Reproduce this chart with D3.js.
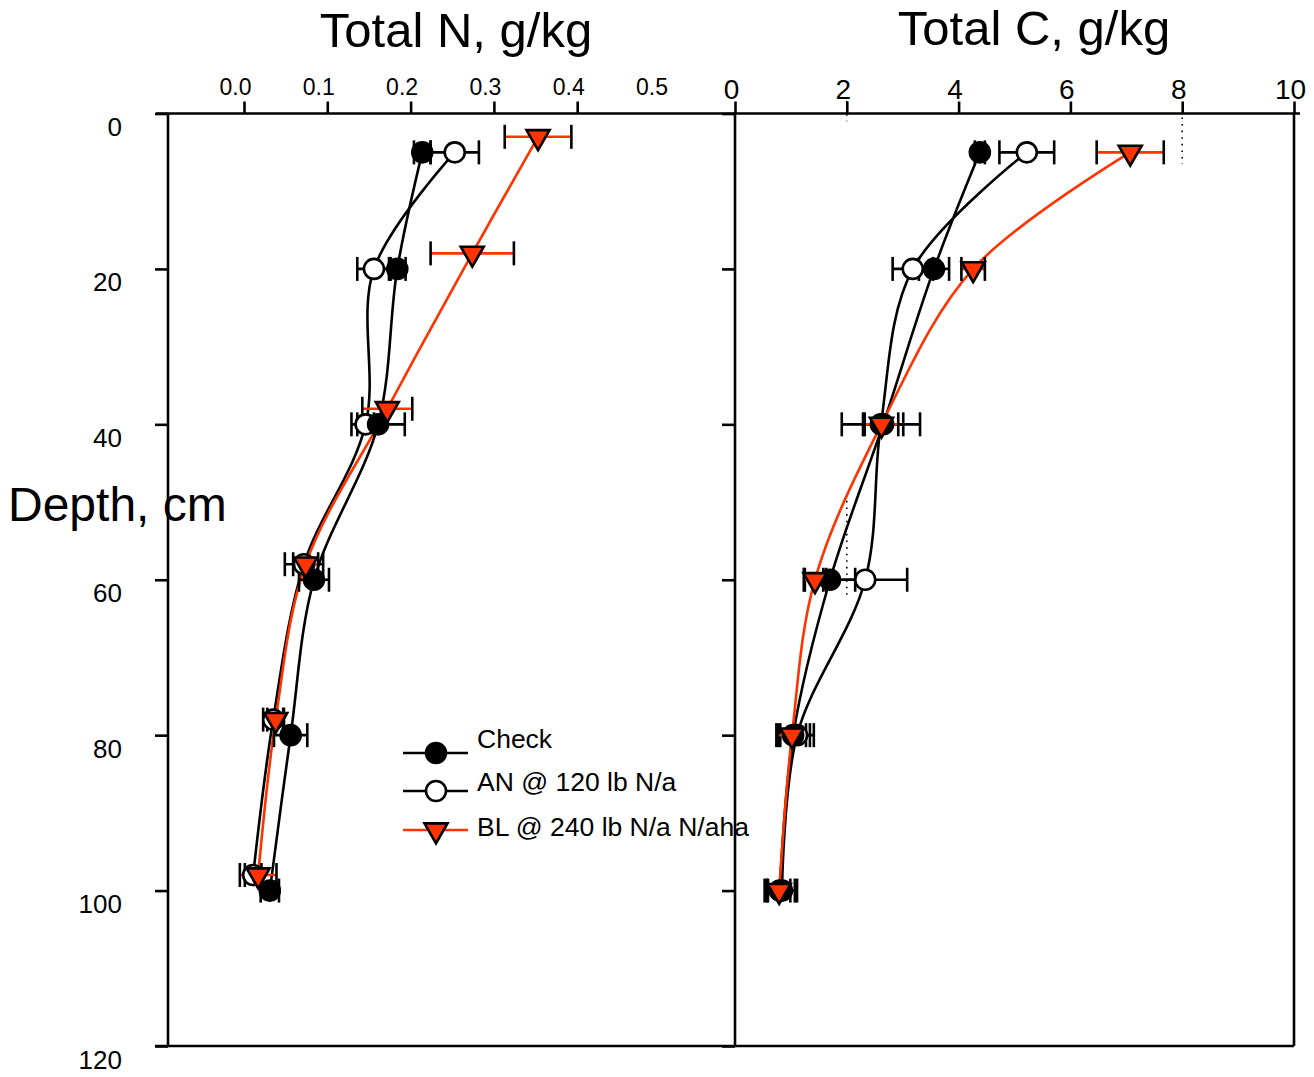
<!DOCTYPE html>
<html>
<head>
<meta charset="utf-8">
<script src="https://cdn.jsdelivr.net/npm/d3@7"></script>
<style>
  body { margin: 0; background: #fff; }
  svg { font-family: "Liberation Sans", Arial, sans-serif; }
</style>
</head>
<body>
<div id="chart"></div>
<script>
const width = 1314;
const height = 1077;
const red = '#ff3300';

// depths (cm) where samples were taken
const depths = [5, 20, 40, 60, 80, 100];
// N panel markers were nudged up a bit so they don't sit on top of each other
const nDepthAN = [5, 20, 40, 58, 78, 98];
const nDepthBL = [3, 18, 38, 58, 78, 98];

// Total N, g/kg
const nCheck = [0.214, 0.184, 0.161, 0.084, 0.056, 0.031];
const nCheckErr = [0.01, 0.01, 0.032, 0.018, 0.02, 0.011];
const nAN = [0.253, 0.156, 0.146, 0.072, 0.035, 0.011];
const nANErr = [0.029, 0.02, 0.01, 0.023, 0.012, 0.01];
const nBL = [0.353, 0.274, 0.172, 0.074, 0.038, 0.017];
const nBLErr = [0.04, 0.05, 0.03, 0.015, 0.01, 0.022];

// Total C, g/kg
const cCheck = [4.38, 3.56, 2.65, 1.70, 1.04, 0.80];
const cCheckErr = [0.09, 0.27, 0.36, 0.45, 0.3, 0.27];
const cAN = [5.22, 3.18, 2.61, 2.33, 1.11, 0.84];
const cANErr = [0.49, 0.36, 0.7, 0.75, 0.3, 0.27];
const cBL = [7.07, 4.26, 2.62, 1.43, 1.02, 0.79];
const cBLErr = [0.6, 0.21, 0.3, 0.2, 0.25, 0.2];

const nTicks = [0, 0.1, 0.2, 0.3, 0.4, 0.5];
const cTicks = [0, 2, 4, 6, 8, 10];
const depthTicks = [0, 20, 40, 60, 80, 100, 120];
const legendLabels = ['Check', 'AN @ 120 lb N/a', 'BL @ 240 lb N/a N/aha'];

// stray dotted marks in the original figure (value, depth from, depth to)
const cDots = [[8, 0.5, 6.5], [2, -1.6, 1], [2, 49, 62]];

const svg = d3.select('#chart').append('svg')
  .attr('width', width)
  .attr('height', height);

const y = d3.scaleLinear().domain([0, 120]).range([113.5, 1046]);
const xN = d3.scaleLinear().domain([0, 0.5]).range([244, 660.5]);
const xC = d3.scaleLinear().domain([0, 10]).range([735, 1294]);

const panelN = [168, 735];
const panelC = [735, 1294];

// ---- frame
const frame = svg.append('g').attr('stroke', '#000').attr('stroke-width', 2.6);
frame.append('line').attr('x1', 156).attr('x2', 1300).attr('y1', y(0)).attr('y2', y(0));
frame.append('line').attr('x1', 155).attr('x2', 1294).attr('y1', y(120)).attr('y2', y(120));
[panelN[0], panelN[1], panelC[1]].forEach(x => {
  frame.append('line').attr('x1', x).attr('x2', x).attr('y1', y(0)).attr('y2', y(120));
});

// ---- axes
function styleAxis(g) {
  g.select('.domain').remove();
  g.selectAll('.tick line').attr('stroke', '#000').attr('stroke-width', 2.6);
  g.selectAll('.tick text').attr('fill', '#000').attr('font-family', '"Liberation Sans", Arial, sans-serif');
}

const axN = svg.append('g')
  .attr('transform', `translate(0,${y(0)})`)
  .call(d3.axisTop(xN).tickValues(nTicks).tickFormat(d3.format('.1f')).tickSize(12).tickPadding(7))
  .call(styleAxis);
axN.selectAll('.tick text').attr('font-size', 23).attr('x', -9);
axN.selectAll('.tick').filter(d => d === 0.5).select('line').remove();

const axC = svg.append('g')
  .attr('transform', `translate(0,${y(0)})`)
  .call(d3.axisTop(xC).tickValues(cTicks).tickSize(12).tickPadding(3))
  .call(styleAxis);
axC.selectAll('.tick text').attr('font-size', 28).attr('x', -4);

const ayN = svg.append('g')
  .attr('transform', `translate(${panelN[0]},0)`)
  .call(d3.axisLeft(y).tickValues(depthTicks).tickSize(13).tickPadding(33))
  .call(styleAxis);
ayN.selectAll('.tick text').attr('font-size', 26).attr('dy', 22);

svg.append('g')
  .attr('transform', `translate(${panelC[0]},0)`)
  .call(d3.axisLeft(y).tickValues(depthTicks).tickSize(13).tickFormat(''))
  .call(styleAxis);

// ---- titles
svg.append('text').attr('x', 456).attr('y', 47).attr('text-anchor', 'middle')
  .attr('font-size', 49).text('Total N, g/kg');
svg.append('text').attr('x', 1034).attr('y', 45).attr('text-anchor', 'middle')
  .attr('font-size', 49).text('Total C, g/kg');
svg.append('text').attr('x', 8).attr('y', 521)
  .attr('font-size', 48).text('Depth, cm');

// dotted stray marks
svg.append('g').selectAll('line').data(cDots).enter().append('line')
  .attr('x1', d => xC(d[0])).attr('x2', d => xC(d[0]))
  .attr('y1', d => y(d[1])).attr('y2', d => y(d[2]))
  .attr('stroke', '#000').attr('stroke-width', 1.6).attr('stroke-dasharray', '1.6,5');

// ---- series
const seriesN = [
  { name: 'AN', vals: nAN, err: nANErr, dep: nDepthAN, color: '#000', marker: 'open' },
  { name: 'Check', vals: nCheck, err: nCheckErr, dep: depths, color: '#000', marker: 'filled' },
  { name: 'BL', vals: nBL, err: nBLErr, dep: nDepthBL, color: red, marker: 'tri' }
];
const seriesC = [
  { name: 'AN', vals: cAN, err: cANErr, dep: depths, color: '#000', marker: 'open' },
  { name: 'Check', vals: cCheck, err: cCheckErr, dep: depths, color: '#000', marker: 'filled' },
  { name: 'BL', vals: cBL, err: cBLErr, dep: depths, color: red, marker: 'tri' }
];

const triangle = d3.symbol().type(d3.symbolTriangle).size(230);

function drawMarker(g, type, color) {
  if (type === 'tri') {
    g.append('path').attr('d', triangle).attr('transform', 'rotate(180)')
      .attr('fill', color).attr('stroke', '#000').attr('stroke-width', 2.6);
  } else {
    g.append('circle').attr('r', 10)
      .attr('fill', type === 'filled' ? '#000' : '#fff')
      .attr('stroke', '#000').attr('stroke-width', 2.6);
  }
}

function drawPanel(series, x) {
  const line = d3.line()
    .x(d => x(d.v)).y(d => y(d.d))
    .curve(d3.curveCatmullRom.alpha(0.5));
  const pts = s => s.vals.map((v, i) => ({ v: v, d: s.dep[i], e: s.err[i] }));

  const lines = svg.append('g');
  series.forEach(s => {
    lines.append('path').attr('d', line(pts(s)))
      .attr('fill', 'none').attr('stroke', s.color).attr('stroke-width', 2.6);
  });

  const bars = svg.append('g');
  series.forEach(s => {
    pts(s).forEach(p => {
      bars.append('line')
        .attr('x1', x(p.v - p.e)).attr('x2', x(p.v + p.e))
        .attr('y1', y(p.d)).attr('y2', y(p.d))
        .attr('stroke', s.color).attr('stroke-width', 2.6);
      [p.v - p.e, p.v + p.e].forEach(c => {
        bars.append('line')
          .attr('x1', x(c)).attr('x2', x(c))
          .attr('y1', y(p.d) - 12).attr('y2', y(p.d) + 12)
          .attr('stroke', '#000').attr('stroke-width', 2.6);
      });
    });
  });

  const marks = svg.append('g');
  series.forEach(s => {
    pts(s).forEach(p => {
      const m = marks.append('g').attr('transform', `translate(${x(p.v)},${y(p.d)})`);
      drawMarker(m, s.marker, s.color);
    });
  });
}

drawPanel(seriesN, xN);
drawPanel(seriesC, xC);

// ---- legend
const legendY = [753, 791, 830];
const legendTextY = [748, 791, 836];
const legendMarkers = ['filled', 'open', 'tri'];
const legendColors = ['#000', '#000', red];
const legend = svg.append('g');
legendLabels.forEach((lab, i) => {
  legend.append('line').attr('x1', 403).attr('x2', 468)
    .attr('y1', legendY[i]).attr('y2', legendY[i])
    .attr('stroke', legendColors[i]).attr('stroke-width', 2.6);
  const m = legend.append('g').attr('transform', `translate(436,${legendY[i]})`);
  drawMarker(m, legendMarkers[i], legendColors[i]);
  legend.append('text').attr('x', 477).attr('y', legendTextY[i])
    .attr('font-size', 26.5).text(lab);
});
</script>
</body>
</html>
